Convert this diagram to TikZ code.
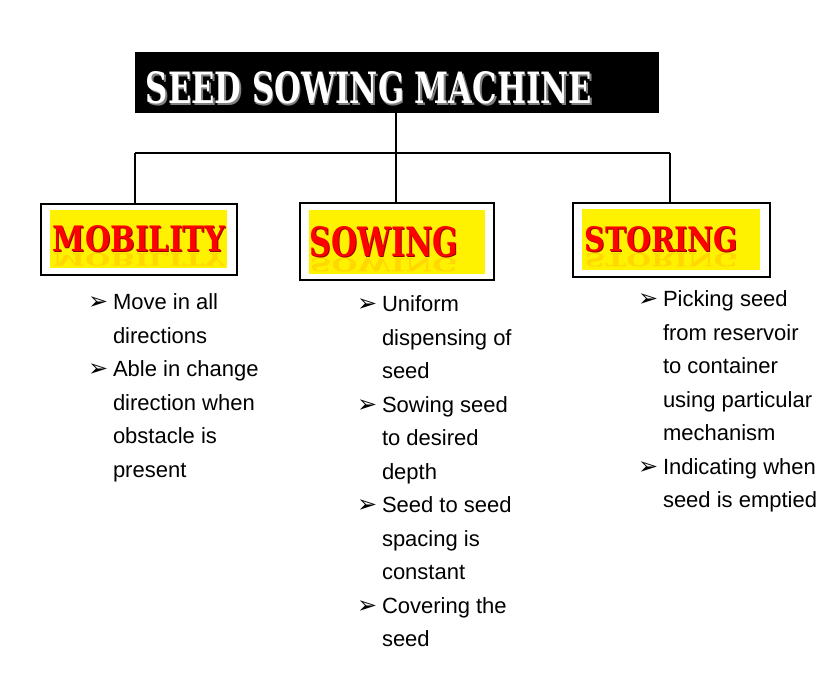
\documentclass[tikz,border=0pt]{standalone}
\usepackage{fontspec}
\usepackage{graphicx}
\setmainfont{Liberation Sans}
\newfontfamily\headfont{DejaVu Serif}
\newfontfamily\symfont{DejaVu Sans}
\newcommand{\bulmark}{\makebox[25pt][l]{\symfont\fontsize{24}{24}\selectfont ➢}}
\newcommand{\ind}{\hspace*{25pt}}
\newcommand{\titletxt}{\resizebox{446pt}{32pt}{\headfont\bfseries SEED SOWING MACHINE}}
\tikzset{
  outerbox/.style={draw=black, line width=1.5pt, fill=white},
  yellowbox/.style={fill=yellow},
  listtext/.style={anchor=north west, align=left, font=\fontsize{22}{33.5}\selectfont},
  conn/.style={draw=black, line width=1.5pt},
  reflect/.style={anchor=north, text=orange, opacity=0.22}
}
\begin{document}
\begin{tikzpicture}[x=1pt,y=-1pt, every node/.style={inner sep=0pt, outer sep=0pt}]
\useasboundingbox (0,0) rectangle (835,692);
\fill[white] (0,0) rectangle (835,692);

% title
\node[fill=black, minimum width=524pt, minimum height=61pt] (title) at (397,82.5) {};
\node[text=gray] (titleshadow) at (370.5,89.5) {\titletxt};
\node[text=white] (titletext) at (369,88) {\titletxt};

% category boxes
\node[outerbox, minimum width=196pt, minimum height=71pt] (mob) at (139,239.5) {};
\node[yellowbox, minimum width=177pt, minimum height=58pt] (moby) at (138.5,239) {};
\node[outerbox, minimum width=194pt, minimum height=77pt] (sow) at (397,241.5) {};
\node[yellowbox, minimum width=176pt, minimum height=64pt] (sowy) at (397,242) {};
\node[outerbox, minimum width=197pt, minimum height=74pt] (sto) at (671.5,240) {};
\node[yellowbox, minimum width=178pt, minimum height=61pt] (stoy) at (671,239.5) {};

% heading reflections
\node[reflect] (mobr) at (139,253) {\scalebox{1}[-0.5]{\resizebox{172pt}{26pt}{\headfont\bfseries MOBILITY}}};
\node[reflect] (sowr) at (384,258) {\scalebox{1}[-0.45]{\resizebox{148pt}{30pt}{\headfont\bfseries SOWING}}};
\node[reflect] (stor) at (661.5,253) {\scalebox{1}[-0.55]{\resizebox{153pt}{25pt}{\headfont\bfseries STORING}}};

% headings
\node[text=red!60!black] (mobs) at (140,240) {\resizebox{172pt}{26pt}{\headfont\bfseries MOBILITY}};
\node[text=red] (mobt) at (139,239) {\resizebox{172pt}{26pt}{\headfont\bfseries MOBILITY}};
\node[text=red!60!black] (sows) at (385,243) {\resizebox{148pt}{30pt}{\headfont\bfseries SOWING}};
\node[text=red] (sowt) at (384,242) {\resizebox{148pt}{30pt}{\headfont\bfseries SOWING}};
\node[text=red!60!black] (stos) at (662.5,240.5) {\resizebox{153pt}{25pt}{\headfont\bfseries STORING}};
\node[text=red] (stot) at (661.5,239.5) {\resizebox{153pt}{25pt}{\headfont\bfseries STORING}};

% connectors
\coordinate (hl) at (135,153);
\coordinate (hm) at (396,153);
\coordinate (hr) at (670,153);
\draw[conn] (title.south -| hm) -- (hm);
\draw[conn] (hl) -- (hr);
\draw[conn] (hl) -- (hl |- mob.north);
\draw[conn] (hm) -- (hm |- sow.north);
\draw[conn] (hr) -- (hr |- sto.north);

% lists
\node[listtext] (mobl) at (88,294) {\bulmark Move in all\\ \ind directions\\ \bulmark Able in change\\ \ind direction when\\ \ind obstacle is\\ \ind present};
\node[listtext] (sowl) at (357,296) {\bulmark Uniform\\ \ind dispensing of\\ \ind seed\\ \bulmark Sowing seed\\ \ind to desired\\ \ind depth\\ \bulmark Seed to seed\\ \ind spacing is\\ \ind constant\\ \bulmark Covering the\\ \ind seed};
\node[listtext] (stol) at (638,291) {\bulmark Picking seed\\ \ind from reservoir\\ \ind to container\\ \ind using particular\\ \ind mechanism\\ \bulmark Indicating when\\ \ind seed is emptied};
\end{tikzpicture}
\end{document}
